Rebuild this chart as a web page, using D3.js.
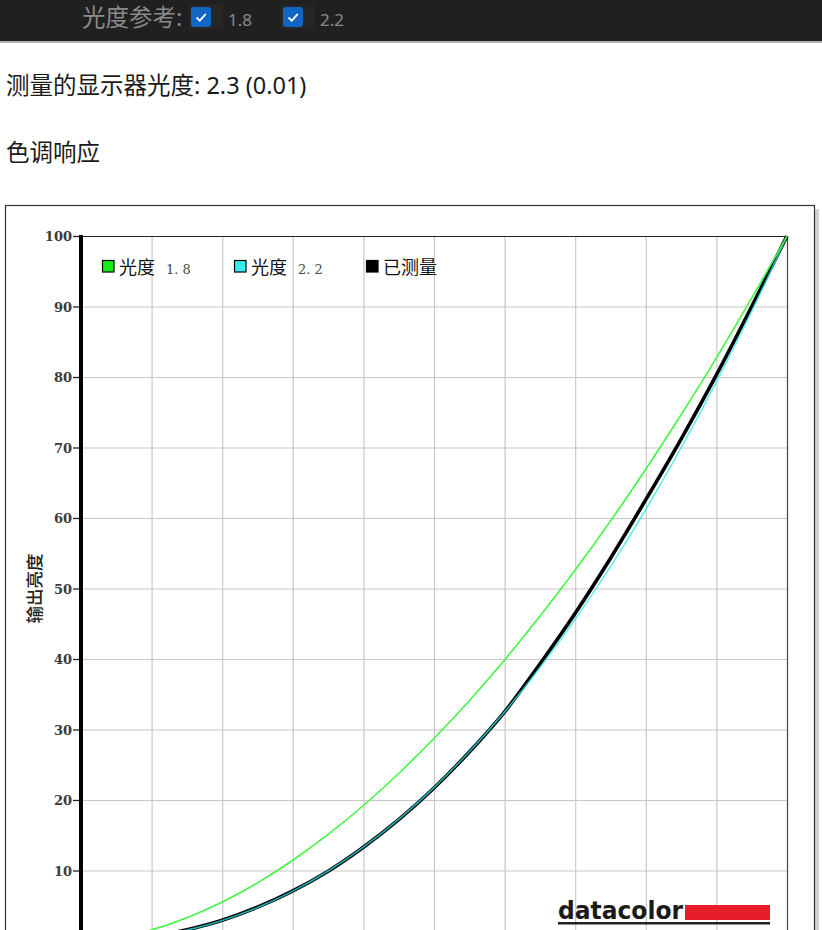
<!DOCTYPE html>
<html lang="zh">
<head>
<meta charset="utf-8">
<title>色调响应</title>
<style>
  body {
    margin: 0;
    width: 822px;
    height: 930px;
    overflow: hidden;
    background: #fff;
    font-family: "Noto Sans", "Noto Sans CJK SC", sans-serif;
  }
</style>
</head>
<body>
<svg id="page" width="822" height="930"></svg>
<script src="https://d3js.org/d3.v7.min.js"></script>
<script>
// input level (%) for every curve point
var inputLevels = [0, 5, 10, 15, 20, 25, 30, 35, 40, 45, 50, 55, 60, 65, 70, 75, 80, 85, 90, 95, 100];
// reference gamma 1.8 (output %)
var gamma18 = [0, 0.45, 1.58, 3.29, 5.52, 8.25, 11.45, 15.11, 19.22, 23.76, 28.72, 34.09, 39.87, 46.05, 52.62, 59.58, 66.92, 74.64, 82.72, 91.18, 100];
// reference gamma 2.2 (output %)
var gamma22 = [0, 0.14, 0.63, 1.54, 2.90, 4.74, 7.07, 9.93, 13.32, 17.26, 21.76, 26.84, 32.50, 38.76, 45.63, 53.10, 61.21, 69.94, 79.31, 89.33, 100];
// measured display response (output %)
var measured = [0, 0.15, 0.65, 1.6, 2.95, 4.8, 7.1, 9.9, 13.3, 17.2, 21.7, 26.8, 32.5, 39.3, 46.5, 54.3, 62.6, 71.2, 80.3, 90.0, 100];

var yTickValues = [10, 20, 30, 40, 50, 60, 70, 80, 90, 100];
var gridValues = [10, 20, 30, 40, 50, 60, 70, 80, 90];
var refOptions = ["1.8", "2.2"];
var legendNames = ["光度", "光度", "已测量"];
var legendSuffix = ["1. 8", "2. 2", ""];
var legendColors = ["#14ee14", "#33eeee", "#000000"];

var svg = d3.select("#page");

// ---- dark header strip
svg.append("rect").attr("x", 0).attr("y", 0).attr("width", 822).attr("height", 41).attr("fill", "#202020");
svg.append("rect").attr("x", 0).attr("y", 41).attr("width", 822).attr("height", 2).attr("fill", "#b4b4b4");

svg.append("text")
  .attr("x", 82).attr("y", 26)
  .attr("font-size", 23.5).attr("fill", "#8a8a8a")
  .text("光度参考:");

var opt = svg.selectAll("g.opt").data(refOptions).enter().append("g")
  .attr("class", "opt")
  .attr("transform", function (d, i) { return "translate(" + (191 + i * 92) + ",7)"; });
opt.append("rect").attr("x", -2).attr("y", -2).attr("width", 34).attr("height", 24).attr("fill", "#262626");
opt.append("rect").attr("width", 20).attr("height", 20).attr("rx", 3).attr("fill", "#1166c4");
opt.append("path").attr("d", "M5.5,10.5 L8.8,13.6 L14.8,6.8")
  .attr("fill", "none").attr("stroke", "#fff").attr("stroke-width", 1.8);
opt.append("text")
  .attr("x", 37).attr("y", 19)
  .attr("font-size", 17).attr("fill", "#8a8a8a")
  .text(function (d) { return d; });

// ---- headings
svg.append("text")
  .attr("x", 6).attr("y", 94)
  .attr("font-size", 23.5).attr("fill", "#1a1a1a")
  .text("测量的显示器光度: 2.3 (0.01)");
svg.append("text")
  .attr("x", 6).attr("y", 161)
  .attr("font-size", 23.5).attr("fill", "#1a1a1a")
  .text("色调响应");

// ---- chart frame with shadow
svg.append("rect").attr("x", 9).attr("y", 209).attr("width", 810).attr("height", 800).attr("fill", "#a8a8a8").attr("opacity", 0.5);
svg.append("rect").attr("x", 5.5).attr("y", 205.5).attr("width", 809).attr("height", 800)
  .attr("fill", "#fff").attr("stroke", "#333").attr("stroke-width", 1.2);

// ---- scales
var x = d3.scaleLinear().domain([0, 100]).range([81, 787]);
var y = d3.scaleLinear().domain([0, 100]).range([941, 236]);

var plot = svg.append("g");

// grid
plot.selectAll("line.vg").data(gridValues).enter().append("line")
  .attr("x1", function (d) { return x(d) + 0.5; }).attr("x2", function (d) { return x(d) + 0.5; })
  .attr("y1", y(100)).attr("y2", y(0))
  .attr("stroke", "#c8c8c8").attr("stroke-width", 1.2);
plot.selectAll("line.hg").data(gridValues).enter().append("line")
  .attr("x1", x(0)).attr("x2", x(100))
  .attr("y1", function (d) { return y(d) + 0.5; }).attr("y2", function (d) { return y(d) + 0.5; })
  .attr("stroke", "#c8c8c8").attr("stroke-width", 1.2);

// plot top / right border
plot.append("line").attr("x1", x(0)).attr("x2", x(100)).attr("y1", y(100) + 0.5).attr("y2", y(100) + 0.5)
  .attr("stroke", "#222").attr("stroke-width", 1.2);
plot.append("line").attr("x1", x(100) + 0.5).attr("x2", x(100) + 0.5).attr("y1", y(100)).attr("y2", y(0))
  .attr("stroke", "#444").attr("stroke-width", 1.2);

// curves
svg.append("clipPath").attr("id", "clip").append("rect")
  .attr("x", x(0)).attr("y", y(100) - 2).attr("width", x(100) - x(0) + 2).attr("height", y(0) - y(100) + 2);

var line = d3.line()
  .x(function (d, i) { return x(inputLevels[i]); })
  .y(function (d) { return y(d); })
  .curve(d3.curveMonotoneX);

var curves = plot.append("g").attr("clip-path", "url(#clip)");
curves.append("path").datum(measured).attr("d", line)
  .attr("fill", "none").attr("stroke", "#000").attr("stroke-width", 3.6);
curves.append("path").datum(gamma22).attr("d", line)
  .attr("fill", "none").attr("stroke", "#2ee8e8").attr("stroke-width", 1.6).attr("opacity", 0.75);
curves.append("path").datum(gamma18).attr("d", line)
  .attr("fill", "none").attr("stroke", "#44f444").attr("stroke-width", 1.6);

// y axis
var yAxis = d3.axisLeft(y).tickValues(yTickValues).tickSize(8).tickFormat(d3.format("d"));
var ya = plot.append("g").attr("transform", "translate(" + x(0) + ",0)").call(yAxis);
ya.select(".domain").remove();
ya.selectAll(".tick line").attr("stroke", "#222").attr("stroke-width", 1.3);
ya.selectAll(".tick text")
  .attr("x", -9).attr("dy", "0.36em")
  .attr("font-family", "'DejaVu Serif', serif")
  .attr("font-weight", "bold").attr("font-size", 13).attr("fill", "#3a3a3a");
plot.append("line").attr("x1", x(0)).attr("x2", x(0)).attr("y1", y(100) - 1).attr("y2", y(0))
  .attr("stroke", "#000").attr("stroke-width", 4);

// y label
svg.append("text")
  .attr("transform", "translate(33," + y(50) + ") rotate(-90)")
  .attr("text-anchor", "middle").attr("dominant-baseline", "central")
  .attr("font-family", "'Noto Sans CJK SC', sans-serif").attr("font-weight", 500)
  .attr("font-size", 17.5).attr("fill", "#222")
  .text("输出亮度");

// legend
var lg = svg.selectAll("g.lg").data(legendNames).enter().append("g")
  .attr("class", "lg")
  .attr("transform", function (d, i) { return "translate(" + (102 + i * 132) + ",260)"; });
lg.append("rect").attr("x", 0.5).attr("y", 0.5).attr("width", 11.5).attr("height", 11.5)
  .attr("fill", function (d, i) { return legendColors[i]; })
  .attr("stroke", "#000").attr("stroke-width", 1.2);
var lt = lg.append("text").attr("x", 17).attr("y", 14)
  .attr("font-family", "'Noto Sans CJK SC', sans-serif").attr("font-size", 18).attr("fill", "#111");
lt.append("tspan").text(function (d) { return d; });
lt.append("tspan")
  .attr("dx", 11)
  .attr("font-family", "'DejaVu Serif', serif").attr("font-size", 13).attr("fill", "#4a4a4a")
  .text(function (d, i) { return legendSuffix[i]; });

// datacolor logo
var logo = svg.append("g");
logo.append("text")
  .attr("x", 558).attr("y", 919)
  .attr("font-family", "'DejaVu Sans', sans-serif").attr("font-weight", "bold")
  .attr("font-size", 25).attr("fill", "#1a1a1a")
  .attr("textLength", 125).attr("lengthAdjust", "spacingAndGlyphs")
  .text("datacolor");
logo.append("rect").attr("x", 685).attr("y", 905).attr("width", 85).attr("height", 15).attr("fill", "#e61e2a");
logo.append("rect").attr("x", 558).attr("y", 922).attr("width", 212).attr("height", 2.5).attr("fill", "#222");
</script>
</body>
</html>
